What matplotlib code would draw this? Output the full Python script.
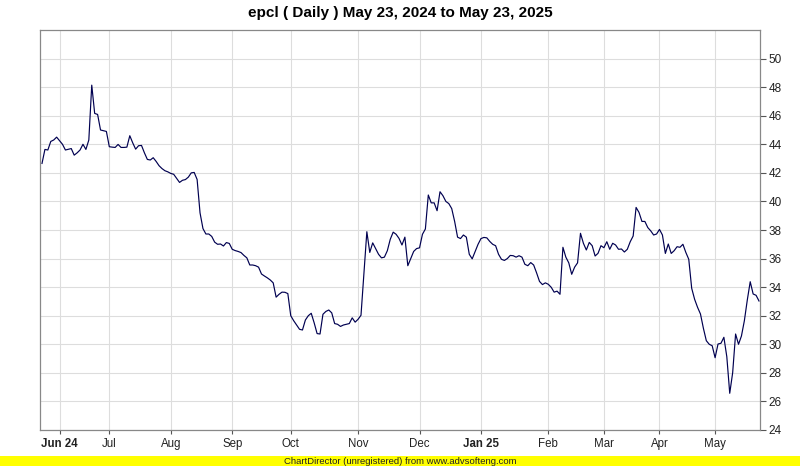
import matplotlib
matplotlib.use("Agg")
import matplotlib.pyplot as plt
from matplotlib.patches import Rectangle

close = [
    42.66, 43.64, 43.6, 44.2, 44.3, 44.5, 44.25, 44.0, 43.6, 43.65,
    43.7, 43.24, 43.4, 43.6, 44.0, 43.64, 44.3, 48.14, 46.16, 46.09,
    45.0, 44.95, 44.9, 43.83, 43.8, 43.78, 43.99, 43.78, 43.78, 43.8,
    44.6, 44.1, 43.66, 43.9, 43.92, 43.4, 42.94, 42.9, 43.06, 42.8,
    42.5, 42.3, 42.15, 42.07, 41.96, 41.9, 41.62, 41.33, 41.48, 41.53,
    41.7, 42.0, 42.03, 41.54, 39.2, 38.1, 37.72, 37.72, 37.55, 37.15,
    37.0, 37.02, 36.88, 37.12, 37.06, 36.65, 36.56, 36.5, 36.42, 36.22,
    36.05, 35.55, 35.55, 35.5, 35.4, 34.92, 34.78, 34.65, 34.5, 34.3,
    33.3, 33.5, 33.65, 33.64, 33.55, 32.0, 31.65, 31.35, 31.05, 31.0,
    31.7, 32.0, 32.17, 31.5, 30.75, 30.72, 32.1, 32.3, 32.4, 32.2,
    31.45, 31.4, 31.25, 31.35, 31.4, 31.45, 31.85, 31.55, 31.75, 32.03,
    35.0, 37.88, 36.43, 37.1, 36.7, 36.3, 36.05, 36.1, 36.55, 37.35,
    37.85, 37.7, 37.41, 36.95, 37.5, 35.5, 36.0, 36.5, 36.7, 36.75,
    37.7, 38.07, 40.45, 39.9, 39.9, 39.35, 40.68, 40.4, 40.0, 39.85,
    39.5, 38.6, 37.5, 37.4, 37.65, 37.5, 36.3, 35.98, 36.5, 37.0,
    37.4, 37.48, 37.45, 37.2, 37.0, 36.9, 36.3, 35.95, 35.87, 36.0,
    36.22, 36.2, 36.1, 36.2, 36.1, 35.6, 35.5, 35.72, 35.55, 35.0,
    34.4, 34.18, 34.3, 34.2, 33.99, 33.65, 33.72, 33.5, 36.79, 36.1,
    35.7, 34.9, 35.4, 35.7, 37.77, 37.07, 36.6, 37.13, 36.9, 36.18,
    36.37, 36.9, 36.76, 37.18, 36.65, 37.07, 36.95, 36.65, 36.67, 36.46,
    36.65, 37.18, 37.58, 39.58, 39.23, 38.6, 38.6, 38.17, 37.94, 37.65,
    37.72, 38.04, 37.65, 36.36, 37.02, 36.36, 36.55, 36.83, 36.79, 37.0,
    36.43, 35.95, 33.92, 33.15, 32.59, 32.12, 31.12, 30.25, 30.0, 29.9,
    29.06, 30.02, 30.07, 30.49, 29.13, 26.57, 28.01, 30.72, 30.0, 30.58,
    31.65, 33.1, 34.38, 33.52, 33.43, 33.03,
]

month_tick_index = [6, 23, 44, 65, 85, 108, 129, 150, 173, 192, 211, 230]
month_labels = ["Jun 24", "Jul", "Aug", "Sep", "Oct", "Nov", "Dec",
                "Jan 25", "Feb", "Mar", "Apr", "May"]
bold_labels = {"Jun 24", "Jan 25"}
y_ticks = list(range(24, 51, 2))

title = "epcl ( Daily ) May 23, 2024 to May 23, 2025"
footer = "ChartDirector (unregistered) from www.advsofteng.com"

plt.rcParams["font.family"] = ["Liberation Sans", "DejaVu Sans"]

W, H = 800, 466
fig = plt.figure(figsize=(W / 100, H / 100), dpi=100)
fig.patch.set_facecolor("white")

ax = fig.add_axes([40 / W, 36 / H, 720 / W, 400 / H])
n = len(close)
step = 717.0 / (n - 1)
ax.set_xlim(-2.0 / step, (n - 1) + 1.0 / step)
ax.set_ylim(24, 52)

ax.plot(range(n), close, color="#000050", lw=0.85, solid_joinstyle="round")

ax.yaxis.tick_right()
ax.set_yticks(y_ticks)
ax.set_yticklabels([str(v) for v in y_ticks])
ax.set_xticks(month_tick_index)
ax.set_xticklabels(month_labels)
for lab in ax.get_xticklabels():
    if lab.get_text() in bold_labels:
        lab.set_fontweight("bold")

ax.grid(True, color="#dddddd", lw=0.8)
ax.set_axisbelow(True)
ax.tick_params(axis="y", direction="out", length=4, width=0.8, color="#555555",
               labelsize=8.5, pad=2, labelcolor="#222222")
ax.tick_params(axis="x", direction="out", length=3, width=0.8, color="#555555",
               labelsize=8.3, pad=3, labelcolor="#222222")
for sp in ax.spines.values():
    sp.set_color("#888888")
    sp.set_linewidth(0.9)

fig.text(0.5, 1 - 13 / H, title, ha="center", va="center",
         fontsize=11, fontweight="bold", color="black")

fig.patches.append(Rectangle((0, 0), 1, 10 / H, transform=fig.transFigure,
                             facecolor="#ffff00", edgecolor="none"))
fig.text(0.5, 5 / H, footer, ha="center", va="center", fontsize=6.8, color="#222222")

fig.savefig("out.png", dpi=100)
